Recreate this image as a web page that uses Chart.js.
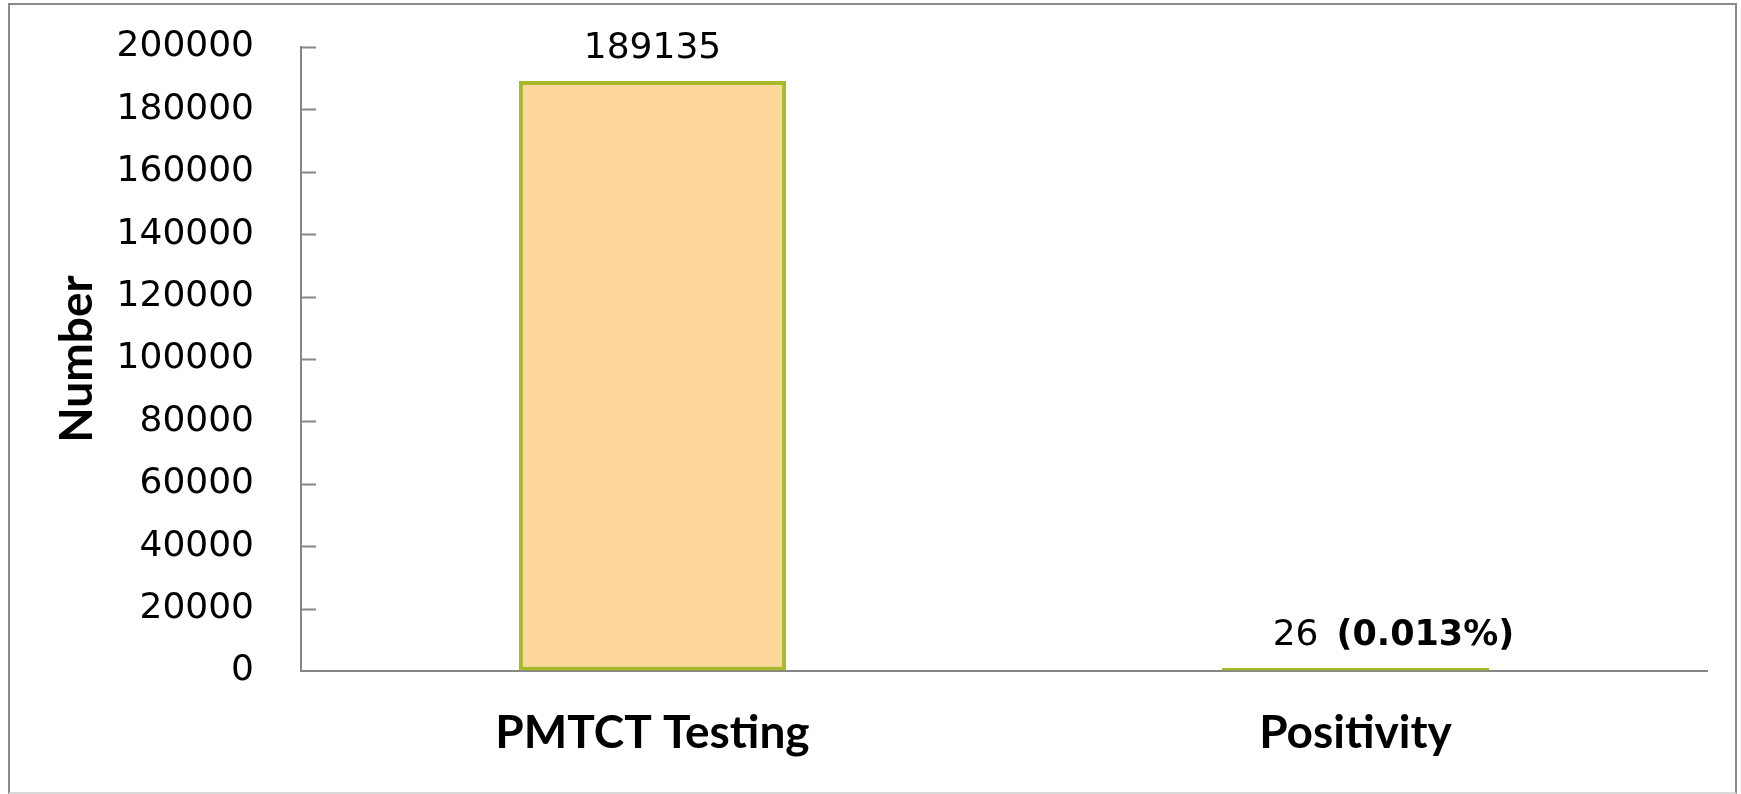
<!DOCTYPE html>
<html>
<head>
<meta charset="utf-8">
<script src="https://cdn.jsdelivr.net/npm/chart.js@4/dist/chart.umd.min.js"></script>
<style>
  html, body { margin: 0; padding: 0; background: #fff; }
  #wrap { position: relative; width: 1741px; height: 794px; }
  #frame {
    position: absolute; left: 8px; top: 3px; width: 1729px; height: 791px;
    box-sizing: border-box; border: 2px solid #8a8a8a; border-bottom-color: #d9d9d9;
    pointer-events: none;
  }
</style>
</head>
<body>
<div id="wrap">
  <canvas id="myChart" width="1741" height="794"></canvas>
  <div id="frame"></div>
</div>
<script>
const categories = ['PMTCT Testing', 'Positivity'];
const counts = [189135, 26];
const valueLabels = ['189135', '26'];
const valueNotes = ['', '(0.013%)'];
const yMin = 0;
const yMax = 200000;
const yStep = 20000;

const AXIS_GREY = '#868686';
const BAR_FILL = '#FDD69A';
const BAR_EDGE = '#A8B92A';

// short tick marks pointing into the plot, like the original
const innerTicks = {
  id: 'innerTicks',
  afterDraw(chart) {
    const { ctx, chartArea } = chart;
    const y = chart.scales.y;
    ctx.save();
    ctx.strokeStyle = AXIS_GREY;
    ctx.lineWidth = 2;
    y.ticks.forEach((t, i) => {
      if (t.value === 0) return;
      const py = Math.round(y.getPixelForTick(i)) + 0.5;
      ctx.beginPath();
      ctx.moveTo(chartArea.left, py);
      ctx.lineTo(chartArea.left + 15, py);
      ctx.stroke();
    });
    ctx.restore();
  },
};

// value labels above bars; the second one carries a bold note
const valueText = {
  id: 'valueText',
  afterDatasetsDraw(chart) {
    const { ctx } = chart;
    const bars = chart.getDatasetMeta(0).data;
    const regular = '36px "DejaVu Sans"';
    const bold = 'bold 35px "DejaVu Sans"';
    const gap = 18;
    const noteShift = 38;
    ctx.save();
    ctx.fillStyle = '#000';
    ctx.textBaseline = 'alphabetic';
    ctx.textAlign = 'left';
    bars.forEach((bar, i) => {
      const y = bar.y - 23;
      ctx.font = regular;
      const w1 = ctx.measureText(valueLabels[i]).width;
      let w2 = 0;
      if (valueNotes[i]) {
        ctx.font = bold;
        w2 = gap + ctx.measureText(valueNotes[i]).width;
      }
      const x = bar.x - (w1 + w2) / 2 + (valueNotes[i] ? noteShift : 0);
      ctx.font = regular;
      ctx.fillText(valueLabels[i], x, y);
      if (valueNotes[i]) {
        ctx.font = bold;
        ctx.fillText(valueNotes[i], x + w1 + gap, y);
      }
    });
    ctx.restore();
  },
};

Chart.defaults.color = '#000';

const ctx = document.getElementById('myChart').getContext('2d');
const myChart = new Chart(ctx, {
  type: 'bar',
  data: {
    labels: categories,
    datasets: [
      {
        label: 'Number',
        data: counts,
        backgroundColor: BAR_FILL,
        borderColor: BAR_EDGE,
        borderWidth: 4,
        borderSkipped: false,
        minBarLength: 3,
        barPercentage: 0.38,
        categoryPercentage: 1,
      },
    ],
  },
  options: {
    responsive: false,
    animation: false,
    layout: {
      padding: { left: 8, top: 47, right: 34, bottom: 0 },
    },
    plugins: {
      legend: { display: false },
      tooltip: { enabled: false },
    },
    scales: {
      x: {
        grid: { display: true, drawOnChartArea: false, drawTicks: false },
        border: { display: true, color: AXIS_GREY, width: 2 },
        ticks: {
          padding: 35,
          font: { family: 'Lato', weight: 'bold', size: 46 },
          color: '#000',
        },
        afterFit(scale) {
          scale.height = 123;
        },
      },
      y: {
        min: yMin,
        max: yMax,
        grid: { display: true, drawOnChartArea: false, drawTicks: false },
        border: { display: true, color: AXIS_GREY, width: 2 },
        ticks: {
          stepSize: yStep,
          padding: 47,
          font: { family: 'DejaVu Sans', size: 36 },
          color: '#000',
          callback: (v) => String(v),
        },
        title: {
          display: true,
          text: 'Number',
          padding: { top: 42, bottom: 0 },
          font: { family: 'Lato', weight: 'bold', size: 46 },
          color: '#000',
        },
        afterFit(scale) {
          scale.width = 293;
          // the label padding is horizontal here, don't let it push the plot down
          scale.paddingTop = 22;
          scale.paddingBottom = 22;
        },
      },
    },
  },
  plugins: [innerTicks, valueText],
});
</script>
</body>
</html>
